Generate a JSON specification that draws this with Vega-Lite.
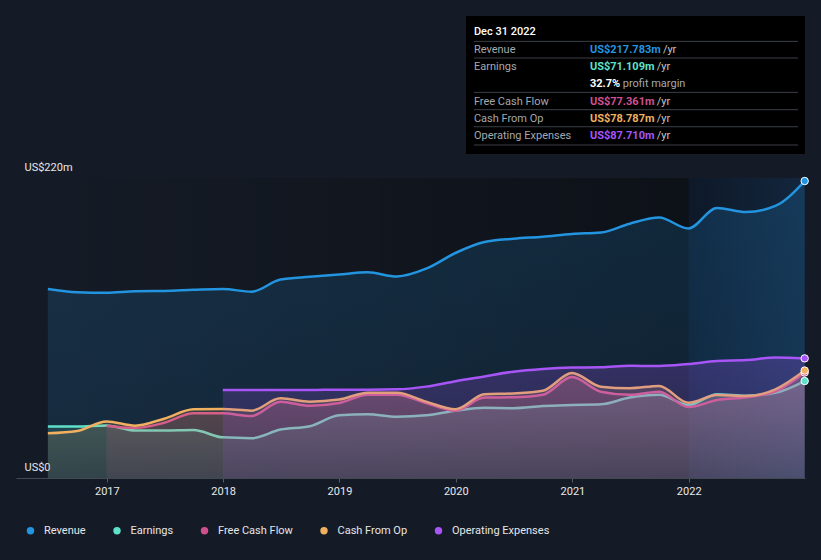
{
  "$schema": "https://vega.github.io/schema/vega-lite/v6.json",
  "width": 789,
  "height": 462,
  "autosize": {"type": "none"},
  "padding": {"left": 16, "top": 16, "right": 16, "bottom": 82},
  "background": "#151b26",
  "config": {"view": {"stroke": null}, "font": "Roboto", "text": {"font": "Roboto", "fontSize": 11, "align": "left", "baseline": "middle"}},
  "datasets": {
    "main": [
      {"date": "2016-06-30", "rev": 138.6, "earn": 37.7, "cfo": 32.8},
      {"date": "2016-09-30", "rev": 136.2, "earn": 37.7, "cfo": 34.5},
      {"date": "2016-12-31", "rev": 135.8, "earn": 38.5, "fcf": 38.4, "cfo": 41.5},
      {"date": "2017-03-31", "rev": 137.0, "earn": 34.8, "fcf": 36.8, "cfo": 38.4},
      {"date": "2017-06-30", "rev": 137.2, "earn": 34.8, "fcf": 40.5, "cfo": 43.5},
      {"date": "2017-09-30", "rev": 138.0, "earn": 35.2, "fcf": 47.5, "cfo": 50.4},
      {"date": "2017-12-31", "rev": 138.6, "earn": 29.8, "fcf": 47.4, "cfo": 50.6, "opex": 64.5},
      {"date": "2018-03-31", "rev": 136.6, "earn": 29.2, "fcf": 45.5, "cfo": 49.4, "opex": 64.5},
      {"date": "2018-06-30", "rev": 145.5, "earn": 35.5, "fcf": 56.0, "cfo": 58.4, "opex": 64.5},
      {"date": "2018-09-30", "rev": 147.5, "earn": 38.0, "fcf": 53.0, "cfo": 56.0, "opex": 64.5},
      {"date": "2018-12-31", "rev": 149.3, "earn": 46.0, "fcf": 55.0, "cfo": 57.5, "opex": 64.8},
      {"date": "2019-03-31", "rev": 150.8, "earn": 46.8, "fcf": 61.0, "cfo": 62.6, "opex": 64.8},
      {"date": "2019-06-30", "rev": 147.8, "earn": 45.0, "fcf": 61.0, "cfo": 62.6, "opex": 65.0},
      {"date": "2019-09-30", "rev": 153.5, "earn": 46.0, "fcf": 55.0, "cfo": 56.0, "opex": 67.0},
      {"date": "2019-12-31", "rev": 165.0, "earn": 49.4, "fcf": 49.4, "cfo": 50.4, "opex": 71.0},
      {"date": "2020-03-31", "rev": 173.0, "earn": 51.5, "fcf": 59.0, "cfo": 61.4, "opex": 74.5},
      {"date": "2020-06-30", "rev": 175.5, "earn": 51.2, "fcf": 59.2, "cfo": 62.0, "opex": 78.0},
      {"date": "2020-09-30", "rev": 177.0, "earn": 52.8, "fcf": 61.0, "cfo": 64.0, "opex": 80.0},
      {"date": "2020-12-31", "rev": 179.0, "earn": 53.5, "fcf": 74.0, "cfo": 77.0, "opex": 81.0},
      {"date": "2021-03-31", "rev": 180.0, "earn": 54.0, "fcf": 63.3, "cfo": 67.0, "opex": 81.2},
      {"date": "2021-06-30", "rev": 186.5, "earn": 59.0, "fcf": 61.0, "cfo": 65.8, "opex": 82.3},
      {"date": "2021-09-30", "rev": 191.0, "earn": 61.0, "fcf": 63.3, "cfo": 67.5, "opex": 82.1},
      {"date": "2021-12-31", "rev": 183.0, "earn": 53.5, "fcf": 52.0, "cfo": 55.2, "opex": 83.6},
      {"date": "2022-03-31", "rev": 198.0, "earn": 61.4, "fcf": 57.2, "cfo": 60.9, "opex": 85.8},
      {"date": "2022-06-30", "rev": 195.0, "earn": 60.4, "fcf": 59.2, "cfo": 60.1, "opex": 86.5},
      {"date": "2022-09-30", "rev": 199.5, "earn": 62.5, "fcf": 63.5, "cfo": 65.0, "opex": 88.3},
      {"date": "2022-12-31", "rev": 217.783, "earn": 71.109, "fcf": 77.361, "cfo": 78.787, "opex": 87.71}
    ],
    "latest": [
      {"date": "2022-12-31", "series": "Revenue", "value": 217.783},
      {"date": "2022-12-31", "series": "Earnings", "value": 71.109},
      {"date": "2022-12-31", "series": "Free Cash Flow", "value": 77.361},
      {"date": "2022-12-31", "series": "Cash From Op", "value": 78.787},
      {"date": "2022-12-31", "series": "Operating Expenses", "value": 87.71}
    ]
  },
  "data": {"values": [{}]},
  "layer": [
    {
      "mark": {"type": "rect", "color": {"gradient": "linear", "x1": 0, "y1": 0, "x2": 1, "y2": 0, "stops": [{"offset": 0, "color": "rgba(0,0,0,0)"}, {"offset": 1, "color": "rgba(0,0,0,0.38)"}]}},
      "encoding": {
        "x": {"datum": {"year": 2016, "month": 6, "date": 30}, "type": "temporal",
          "scale": {"domain": [{"year": 2016, "month": 3, "date": 22}, {"year": 2023, "month": 1, "date": 1}]},
          "axis": {"title": null, "values": [{"year": 2017}, {"year": 2018}, {"year": 2019}, {"year": 2020}, {"year": 2021}, {"year": 2022}], "format": "%Y", "labelColor": "#e8e8e8", "labelFontSize": 11, "labelFont": "Roboto", "tickColor": "#555b66", "tickSize": 4, "domainColor": "#434953", "labelPadding": 3, "grid": false}},
        "x2": {"datum": {"year": 2022, "month": 1, "date": 1}},
        "y": {"datum": 0, "type": "quantitative",
          "scale": {"domain": [0, 338.8], "nice": false},
          "axis": {"title": null, "values": [0, 100, 200, 220], "labelExpr": "datum.value == 220 ? 'US$220m' : datum.value == 0 ? 'US$0' : ''", "labelAlign": "left", "labelBaseline": "alphabetic", "labelOffset": -8, "labelPadding": -8, "labelBound": false, "labelOverlap": false, "ticks": false, "tickSize": 0, "domain": false, "labelColor": "#e8e8e8", "labelFontSize": 11, "labelFont": "Roboto", "gridColor": {"condition": {"test": "datum.value == 220", "value": "#4a505a"}, "value": "#2a303b"}}},
        "y2": {"datum": 220}
      }
    },
    {
      "mark": {"type": "rect", "color": {"gradient": "linear", "x1": 0, "y1": 0, "x2": 1, "y2": 0, "stops": [{"offset": 0, "color": "rgba(0,20,45,0.35)"}, {"offset": 1, "color": "rgba(15,60,105,0.35)"}]}},
      "encoding": {
        "x": {"datum": {"year": 2022, "month": 1, "date": 1}, "type": "temporal"},
        "x2": {"datum": {"year": 2022, "month": 12, "date": 31}},
        "y": {"datum": 0, "type": "quantitative"},
        "y2": {"datum": 220}
      }
    },
    {
      "data": {"name": "main"},
      "mark": {"type": "area", "interpolate": "monotone", "color": {"gradient": "linear", "x1": 0, "y1": 0, "x2": 0, "y2": 1, "stops": [{"offset": 0, "color": "rgba(35,148,223,0.18)"}, {"offset": 1, "color": "rgba(35,148,223,0.12)"}]}},
      "encoding": {"x": {"field": "date", "type": "temporal"}, "y": {"field": "rev", "type": "quantitative"}}
    },
    {
      "data": {"name": "main"},
      "mark": {"type": "line", "interpolate": "monotone", "stroke": "#2394df", "strokeWidth": 2.5},
      "encoding": {"x": {"field": "date", "type": "temporal"}, "y": {"field": "rev", "type": "quantitative"}}
    },
    {
      "data": {"name": "main"},
      "transform": [{"filter": "isValid(datum.earn)"}],
      "mark": {"type": "area", "interpolate": "monotone", "color": {"gradient": "linear", "x1": 0, "y1": 0, "x2": 0, "y2": 1, "stops": [{"offset": 0, "color": "rgba(95,224,200,0.2)"}, {"offset": 1, "color": "rgba(95,224,200,0.08)"}]}},
      "encoding": {"x": {"field": "date", "type": "temporal"}, "y": {"field": "earn", "type": "quantitative"}}
    },
    {
      "data": {"name": "main"},
      "transform": [{"filter": "isValid(datum.earn)"}],
      "mark": {"type": "line", "interpolate": "monotone", "stroke": "#5fe0c8", "strokeWidth": 2.5},
      "encoding": {"x": {"field": "date", "type": "temporal"}, "y": {"field": "earn", "type": "quantitative"}}
    },
    {
      "data": {"name": "main"},
      "transform": [{"filter": "isValid(datum.fcf)"}],
      "mark": {"type": "area", "interpolate": "monotone", "color": {"gradient": "linear", "x1": 0, "y1": 0, "x2": 0, "y2": 1, "stops": [{"offset": 0, "color": "rgba(208,80,143,0.2)"}, {"offset": 1, "color": "rgba(208,80,143,0.1)"}]}},
      "encoding": {"x": {"field": "date", "type": "temporal"}, "y": {"field": "fcf", "type": "quantitative"}}
    },
    {
      "data": {"name": "main"},
      "transform": [{"filter": "isValid(datum.fcf)"}],
      "mark": {"type": "line", "interpolate": "monotone", "stroke": "#d0508f", "strokeWidth": 2.5},
      "encoding": {"x": {"field": "date", "type": "temporal"}, "y": {"field": "fcf", "type": "quantitative"}}
    },
    {
      "data": {"name": "main"},
      "transform": [{"filter": "isValid(datum.cfo)"}],
      "mark": {"type": "area", "interpolate": "monotone", "color": {"gradient": "linear", "x1": 0, "y1": 0, "x2": 0, "y2": 1, "stops": [{"offset": 0, "color": "rgba(240,176,96,0.2)"}, {"offset": 1, "color": "rgba(240,176,96,0.1)"}]}},
      "encoding": {"x": {"field": "date", "type": "temporal"}, "y": {"field": "cfo", "type": "quantitative"}}
    },
    {
      "data": {"name": "main"},
      "transform": [{"filter": "isValid(datum.cfo)"}],
      "mark": {"type": "line", "interpolate": "monotone", "stroke": "#f0b060", "strokeWidth": 2.5},
      "encoding": {"x": {"field": "date", "type": "temporal"}, "y": {"field": "cfo", "type": "quantitative"}}
    },
    {
      "data": {"name": "main"},
      "transform": [{"filter": "isValid(datum.opex)"}],
      "mark": {"type": "area", "interpolate": "monotone", "color": {"gradient": "linear", "x1": 0, "y1": 0, "x2": 0, "y2": 1, "stops": [{"offset": 0, "color": "rgba(168,85,247,0.24)"}, {"offset": 1, "color": "rgba(168,85,247,0.1)"}]}},
      "encoding": {"x": {"field": "date", "type": "temporal"}, "y": {"field": "opex", "type": "quantitative"}}
    },
    {
      "data": {"name": "main"},
      "transform": [{"filter": "isValid(datum.opex)"}],
      "mark": {"type": "line", "interpolate": "monotone", "stroke": "#a855f7", "strokeWidth": 2.5},
      "encoding": {"x": {"field": "date", "type": "temporal"}, "y": {"field": "opex", "type": "quantitative"}}
    },
    {
      "data": {"name": "latest"},
      "mark": {"type": "circle", "size": 55, "opacity": 1, "stroke": "#ffffff", "strokeWidth": 1},
      "encoding": {
        "x": {"field": "date", "type": "temporal"},
        "y": {"field": "value", "type": "quantitative"},
        "color": {"field": "series", "type": "nominal",
          "scale": {"domain": ["Revenue", "Earnings", "Free Cash Flow", "Cash From Op", "Operating Expenses"], "range": ["#2394df", "#5fe0c8", "#d0508f", "#f0b060", "#a855f7"]},
          "legend": {"title": null, "orient": "none", "legendX": 9, "legendY": 509, "direction": "horizontal", "symbolType": "circle", "symbolSize": 55, "symbolStrokeWidth": 0, "symbolOpacity": 1, "labelColor": "#e6e6e6", "labelFontSize": 11, "labelFont": "Roboto", "labelOffset": 8, "columnPadding": 25.5}}
      }
    },
    {
      "mark": {"type": "rect", "color": "#000000"},
      "encoding": {
        "x": {"datum": {"year": 2020, "month": 2, "date": 2}, "type": "temporal"},
        "x2": {"datum": {"year": 2023, "month": 1, "date": 1}},
        "y": {"datum": 237.6, "type": "quantitative"},
        "y2": {"datum": 338.8}
      }
    },
    {"mark": {"type": "rule", "color": "#3a3f47", "strokeWidth": 1}, "encoding": {"x": {"datum": {"year": 2020, "month": 2, "date": 27}, "type": "temporal"}, "x2": {"datum": {"year": 2022, "month": 12, "date": 10}}, "y": {"datum": 320.2, "type": "quantitative"}}},
    {"mark": {"type": "rule", "color": "#3a3f47", "strokeWidth": 1}, "encoding": {"x": {"datum": {"year": 2020, "month": 2, "date": 27}, "type": "temporal"}, "x2": {"datum": {"year": 2022, "month": 12, "date": 10}}, "y": {"datum": 308.0, "type": "quantitative"}}},
    {"mark": {"type": "rule", "color": "#3a3f47", "strokeWidth": 1}, "encoding": {"x": {"datum": {"year": 2020, "month": 2, "date": 27}, "type": "temporal"}, "x2": {"datum": {"year": 2022, "month": 12, "date": 10}}, "y": {"datum": 282.8, "type": "quantitative"}}},
    {"mark": {"type": "rule", "color": "#3a3f47", "strokeWidth": 1}, "encoding": {"x": {"datum": {"year": 2020, "month": 2, "date": 27}, "type": "temporal"}, "x2": {"datum": {"year": 2022, "month": 12, "date": 10}}, "y": {"datum": 270.1, "type": "quantitative"}}},
    {"mark": {"type": "rule", "color": "#3a3f47", "strokeWidth": 1}, "encoding": {"x": {"datum": {"year": 2020, "month": 2, "date": 27}, "type": "temporal"}, "x2": {"datum": {"year": 2022, "month": 12, "date": 10}}, "y": {"datum": 257.6, "type": "quantitative"}}},
    {"mark": {"type": "rule", "color": "#3a3f47", "strokeWidth": 1}, "encoding": {"x": {"datum": {"year": 2020, "month": 2, "date": 27}, "type": "temporal"}, "x2": {"datum": {"year": 2022, "month": 12, "date": 10}}, "y": {"datum": 244.2, "type": "quantitative"}}},
    {"mark": {"type": "text", "text": "Dec 31 2022", "color": "#ffffff", "fontWeight": 500}, "encoding": {"x": {"datum": {"year": 2020, "month": 2, "date": 27}, "type": "temporal"}, "y": {"datum": 327.3, "type": "quantitative"}}},
    {"mark": {"type": "text", "text": "Revenue", "color": "#a4a8ae"}, "encoding": {"x": {"datum": {"year": 2020, "month": 2, "date": 27}, "type": "temporal"}, "y": {"datum": 313.9, "type": "quantitative"}}},
    {"mark": {"type": "text", "text": "Earnings", "color": "#a4a8ae"}, "encoding": {"x": {"datum": {"year": 2020, "month": 2, "date": 27}, "type": "temporal"}, "y": {"datum": 301.2, "type": "quantitative"}}},
    {"mark": {"type": "text", "text": "Free Cash Flow", "color": "#a4a8ae"}, "encoding": {"x": {"datum": {"year": 2020, "month": 2, "date": 27}, "type": "temporal"}, "y": {"datum": 275.9, "type": "quantitative"}}},
    {"mark": {"type": "text", "text": "Cash From Op", "color": "#a4a8ae"}, "encoding": {"x": {"datum": {"year": 2020, "month": 2, "date": 27}, "type": "temporal"}, "y": {"datum": 263.0, "type": "quantitative"}}},
    {"mark": {"type": "text", "text": "Operating Expenses", "color": "#a4a8ae"}, "encoding": {"x": {"datum": {"year": 2020, "month": 2, "date": 27}, "type": "temporal"}, "y": {"datum": 250.8, "type": "quantitative"}}},
    {"mark": {"type": "text", "text": "US$217.783m", "color": "#2394df", "fontWeight": "bold"}, "encoding": {"x": {"datum": {"year": 2021, "month": 2, "date": 25}, "type": "temporal"}, "y": {"datum": 313.9, "type": "quantitative"}}},
    {"mark": {"type": "text", "text": "US$71.109m", "color": "#5fe0c8", "fontWeight": "bold"}, "encoding": {"x": {"datum": {"year": 2021, "month": 2, "date": 25}, "type": "temporal"}, "y": {"datum": 301.2, "type": "quantitative"}}},
    {"mark": {"type": "text", "text": "32.7%", "color": "#ffffff", "fontWeight": "bold"}, "encoding": {"x": {"datum": {"year": 2021, "month": 2, "date": 25}, "type": "temporal"}, "y": {"datum": 288.7, "type": "quantitative"}}},
    {"mark": {"type": "text", "text": "US$77.361m", "color": "#d0508f", "fontWeight": "bold"}, "encoding": {"x": {"datum": {"year": 2021, "month": 2, "date": 25}, "type": "temporal"}, "y": {"datum": 275.9, "type": "quantitative"}}},
    {"mark": {"type": "text", "text": "US$78.787m", "color": "#f0b060", "fontWeight": "bold"}, "encoding": {"x": {"datum": {"year": 2021, "month": 2, "date": 25}, "type": "temporal"}, "y": {"datum": 263.0, "type": "quantitative"}}},
    {"mark": {"type": "text", "text": "US$87.710m", "color": "#a855f7", "fontWeight": "bold"}, "encoding": {"x": {"datum": {"year": 2021, "month": 2, "date": 25}, "type": "temporal"}, "y": {"datum": 250.8, "type": "quantitative"}}},
    {"mark": {"type": "text", "text": "/yr", "color": "#c4c7cc"}, "encoding": {"x": {"datum": {"year": 2021, "month": 10, "date": 12}, "type": "temporal"}, "y": {"datum": 313.9, "type": "quantitative"}}},
    {"mark": {"type": "text", "text": "/yr", "color": "#c4c7cc"}, "encoding": {"x": {"datum": {"year": 2021, "month": 9, "date": 23}, "type": "temporal"}, "y": {"datum": 301.2, "type": "quantitative"}}},
    {"mark": {"type": "text", "text": "profit margin", "color": "#a4a8ae"}, "encoding": {"x": {"datum": {"year": 2021, "month": 6, "date": 8}, "type": "temporal"}, "y": {"datum": 288.7, "type": "quantitative"}}},
    {"mark": {"type": "text", "text": "/yr", "color": "#c4c7cc"}, "encoding": {"x": {"datum": {"year": 2021, "month": 9, "date": 23}, "type": "temporal"}, "y": {"datum": 275.9, "type": "quantitative"}}},
    {"mark": {"type": "text", "text": "/yr", "color": "#c4c7cc"}, "encoding": {"x": {"datum": {"year": 2021, "month": 9, "date": 23}, "type": "temporal"}, "y": {"datum": 263.0, "type": "quantitative"}}},
    {"mark": {"type": "text", "text": "/yr", "color": "#c4c7cc"}, "encoding": {"x": {"datum": {"year": 2021, "month": 9, "date": 23}, "type": "temporal"}, "y": {"datum": 250.8, "type": "quantitative"}}}
  ]
}
